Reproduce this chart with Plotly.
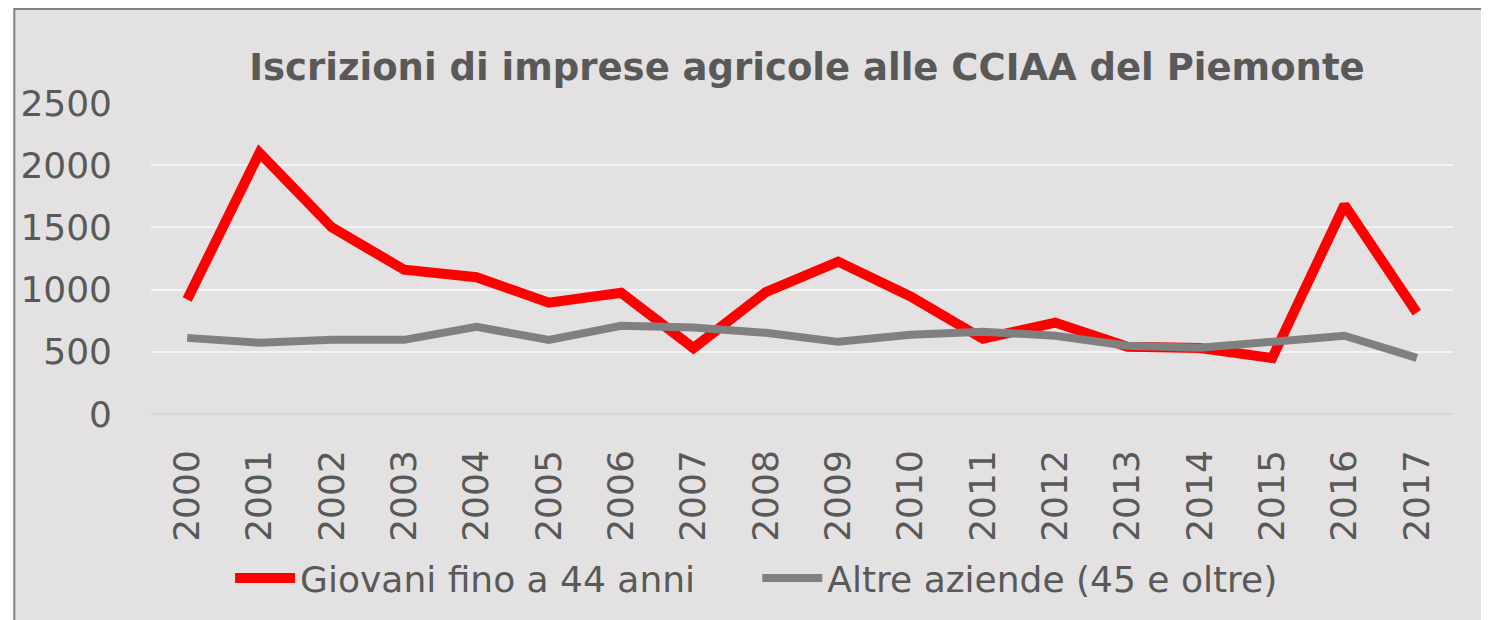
import plotly.graph_objects as go

years = [str(y) for y in range(2000, 2018)]
giovani = [920, 2100, 1500, 1160, 1100, 895, 975, 530, 980, 1225, 945, 605, 735, 540, 530, 450, 1680, 815]
altre = [612, 572, 596, 596, 701, 596, 709, 695, 653, 580, 637, 661, 629, 548, 532, 580, 629, 451]
y_ticks = [0, 500, 1000, 1500, 2000, 2500]
names = ["Giovani fino a 44 anni", "Altre aziende (45 e oltre)"]

TXT = "#595959"
FONT = "DejaVu Sans"
OFF = 8  # page body margin
W, H = 1489, 620
L, R, T, B = 148 - OFF, 1489 - (1453 - OFF), 103 - OFF, 620 - (414 - OFF)
pw, ph = W - L - R, H - T - B

fig = go.Figure()
fig.add_trace(go.Scatter(x=years, y=giovani, mode="lines", name=names[0] + "\u00a0" * 5,
                         line=dict(color="#FF0000", width=10)))
fig.add_trace(go.Scatter(x=years, y=altre, mode="lines", name=names[1],
                         line=dict(color="#808080", width=8)))

def px_x(p):
    return (p - OFF - L) / pw

def px_y(p):
    return (H - B - (p - OFF)) / ph

fig.add_shape(type="rect", xref="paper", yref="paper",
              x0=px_x(11), x1=px_x(1510), y0=px_y(640), y1=px_y(9),
              fillcolor="#E3E1E2", line=dict(color="#808080", width=2), layer="below")

fig.update_layout(
    width=W, height=H,
    margin=dict(l=L, r=R, t=T, b=B),
    paper_bgcolor="white", plot_bgcolor="rgba(0,0,0,0)",
    font=dict(family=FONT, color=TXT),
    title=dict(text="<b>Iscrizioni di imprese agricole alle CCIAA del Piemonte</b>",
               xref="container", yref="container", x=(807 - OFF) / W, y=1 - (67 - OFF) / H,
               xanchor="center", yanchor="middle", font=dict(size=37, color=TXT)),
    xaxis=dict(type="category", range=[-0.5, 17.5], tickangle=-90, showgrid=False,
               tickfont=dict(size=36, color=TXT), ticks="", ticklabelstandoff=28,
               showline=False, zeroline=False),
    yaxis=dict(range=[0, 2500], tickvals=y_ticks, tickfont=dict(size=36, color=TXT),
               gridcolor="#F4F4F4", gridwidth=2, zeroline=True, zerolinecolor="#D6D6D6",
               zerolinewidth=2, ticks="", ticklabelstandoff=38, showline=False),
    legend=dict(orientation="h", x=px_x(755), y=px_y(578), xanchor="center", yanchor="middle",
                font=dict(size=36, color=TXT), bgcolor="rgba(0,0,0,0)",
                itemwidth=60),
    showlegend=True,
)

fig.write_html("out.html")
